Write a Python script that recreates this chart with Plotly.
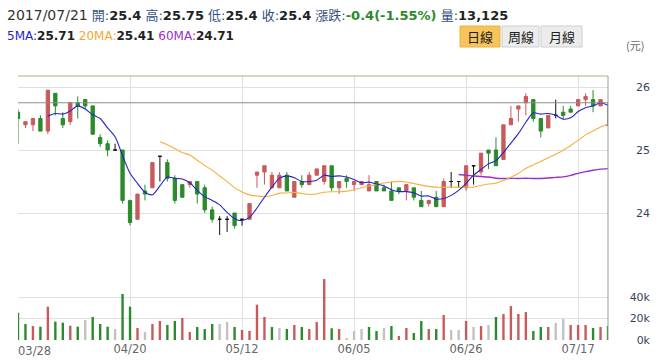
import plotly.graph_objects as go
from plotly.subplots import make_subplots
import pandas as pd

# ---------------- data ----------------
dates = ["03/28","03/29","03/30","03/31","04/05","04/06","04/07","04/10","04/11","04/12","04/13","04/14","04/17","04/18","04/19","04/20",
         "04/21","04/24","04/25","04/26","04/27","04/28","05/02","05/03","05/04","05/05","05/08","05/09","05/10","05/11","05/12",
         "05/15","05/16","05/17","05/18","05/19","05/22","05/23","05/24","05/25","05/26","05/31","06/01","06/02","06/03","06/05",
         "06/06","06/07","06/08","06/09","06/12","06/13","06/14","06/15","06/16","06/19","06/20","06/21","06/22","06/23","06/26",
         "06/27","06/28","06/29","06/30","07/03","07/04","07/05","07/06","07/07","07/10","07/11","07/12","07/13","07/14","07/17",
         "07/18","07/19","07/20","07/21"]

opens = [25.60,25.40,25.40,25.50,25.30,25.90,25.50,25.45,25.75,25.80,25.70,25.20,25.10,25.00,25.00,24.20,
         23.90,24.35,24.40,24.90,24.80,24.55,24.45,24.45,24.50,24.40,24.05,23.90,23.90,24.00,23.90,
         23.90,24.60,24.65,24.40,24.40,24.60,24.25,24.50,24.45,24.60,24.50,24.75,24.40,24.55,24.45,
         24.45,24.35,24.50,24.40,24.35,24.40,24.35,24.40,24.20,24.15,24.25,24.10,24.50,24.50,24.40,
         24.75,24.65,25.00,25.00,24.85,25.40,25.65,25.75,25.80,25.50,25.35,25.55,25.60,25.65,25.70,
         25.80,25.80,25.70,25.40]
highs = [25.65,25.45,25.50,25.55,25.95,25.90,25.60,25.75,25.85,25.80,25.70,25.25,25.15,25.10,25.00,24.20,
         24.30,24.45,24.80,24.90,24.85,24.60,24.45,24.50,24.50,24.45,24.10,23.95,23.95,24.00,23.90,
         24.15,24.65,24.75,24.65,24.65,24.65,24.50,24.60,24.65,24.70,24.75,24.75,24.50,24.60,24.50,
         24.50,24.60,24.50,24.45,24.50,24.40,24.45,24.40,24.35,24.20,24.35,24.55,24.65,24.50,24.75,
         24.75,24.95,25.00,25.20,25.40,25.70,25.70,25.90,25.80,25.50,25.55,25.80,25.70,25.70,25.80,
         25.90,25.95,25.80,25.75]
lows = [25.10,25.35,25.30,25.30,25.25,25.55,25.35,25.40,25.50,25.65,25.25,25.05,24.90,25.00,24.15,23.80,
        23.90,24.20,24.40,24.50,24.50,24.15,24.25,24.40,24.15,24.00,23.85,23.65,23.70,23.75,23.80,
        23.90,24.40,24.45,24.40,24.40,24.35,24.25,24.40,24.45,24.60,24.45,24.35,24.30,24.40,24.35,
        24.45,24.35,24.35,24.35,24.20,24.30,24.20,24.20,24.10,24.10,24.10,24.10,24.40,24.40,24.35,
        24.45,24.60,24.70,24.75,24.85,25.40,25.45,25.55,25.45,25.20,25.35,25.50,25.50,25.60,25.70,
        25.70,25.60,25.70,25.40]
closes = [25.50,25.45,25.50,25.30,25.95,25.70,25.40,25.75,25.70,25.70,25.25,25.10,25.00,25.00,24.20,23.85,
          24.30,24.30,24.80,24.90,24.55,24.20,24.25,24.50,24.30,24.05,23.90,23.90,23.90,23.80,23.90,
          24.15,24.65,24.75,24.60,24.60,24.35,24.50,24.45,24.60,24.70,24.75,24.40,24.50,24.50,24.50,
          24.50,24.45,24.35,24.35,24.20,24.35,24.45,24.25,24.10,24.20,24.10,24.50,24.50,24.50,24.75,
          24.75,24.95,24.95,24.75,25.40,25.50,25.70,25.85,25.50,25.30,25.55,25.55,25.55,25.60,25.80,
          25.85,25.70,25.80,25.40]
volumes = [25400,14900,13000,12400,31000,17100,16100,13300,12400,18600,21400,14900,12400,10200,42800,31000,
           11200,7400,14900,17700,14000,17700,20500,7400,12100,10200,14900,14900,16700,12100,9300,
           8400,32900,21400,12100,11200,10200,14000,12100,10200,16700,56700,10900,10200,1900,8400,
           10200,12100,8400,11200,13000,3700,11200,6500,17700,10200,10200,23300,9300,9300,17700,
           12100,13000,14000,21400,24200,31600,24200,26000,8400,12100,12100,15800,19500,14000,14000,
           14000,11200,12100,13125]

tick_dates = ["03/28", "04/20", "05/12", "06/05", "06/26", "07/17"]
tick_text = ["", "04/20", "05/12", "06/05", "06/26", "07/17"]
first_tick_label = "03/28"
price_ticks = [24, 25, 26]
vol_ticks = [0, 20000, 40000, 60000]
vol_tick_text = ["0k", "20k", "40k", ""]
marker_price = 25.75

header1 = ("<span style='color:#333;font-size:14px'>2017/07/21</span> "
           "<span style='color:#34507e'>開:</span><b>25.4</b> "
           "<span style='color:#34507e'>高:</span><b>25.75</b> "
           "<span style='color:#34507e'>低:</span><b>25.4</b> "
           "<span style='color:#34507e'>收:</span><b>25.4</b> "
           "<span style='color:#34507e'>漲跌:</span><b><span style='color:#2a8a2a'>-0.4(-1.55%)</span></b> "
           "<span style='color:#34507e'>量:</span><b>13,125</b>")
header2 = ("<span style='color:#2424c8'>5MA:</span><b>25.71</b> "
           "<span style='color:#f0a838'>20MA:</span><b>25.41</b> "
           "<span style='color:#9a30c8'>60MA:</span><b>24.71</b>")

# ---------------- styling ----------------
W, H = 662, 364
ML, MR, MT, MB = 18, 8, 76, 24
PW = W - ML - MR
PH = H - MT - MB
X_RIGHT = 608
VOL_TOP = 275

RED = "#c95a5c"
GREEN = "#2b8a2b"
BLACK = "#111111"
GRAY = "#c4c0c4"
GRID = "#e0e0e0"
FONT = "DejaVu Sans, Noto Sans CJK TC, sans-serif"


def px(xp):
    return (xp - ML) / PW


def py(yp):
    return (H - MB - yp) / PH


df = pd.DataFrame({"d": dates, "o": opens, "h": highs, "l": lows, "c": closes, "v": volumes})
diff_oc = (df.c - df.o).round(3)
up = df[diff_oc > 0]
dn = df[diff_oc < 0]
fl = df[diff_oc == 0]

chg = df.c.diff().round(3)
chg.iloc[0] = diff_oc.iloc[0]
vol_colors = [RED if c > 0 else (GREEN if c < 0 else GRAY) for c in chg]

ma5 = df.c.rolling(5).mean()
ma20 = df.c.rolling(20).mean()
ma60 = df.c.rolling(60).mean()

fig = make_subplots(rows=2, cols=1, shared_xaxes=True, vertical_spacing=0)


def candle(sub, color):
    return go.Candlestick(x=sub.d, open=sub.o, high=sub.h, low=sub.l, close=sub.c,
                          increasing=dict(line=dict(color=color, width=1), fillcolor=color),
                          decreasing=dict(line=dict(color=color, width=1), fillcolor=color),
                          whiskerwidth=0, showlegend=False, hoverinfo="skip")


fig.add_trace(candle(up, RED), row=1, col=1)
fig.add_trace(candle(dn, GREEN), row=1, col=1)
fig.add_trace(candle(fl, BLACK), row=1, col=1)

for ma, color, w in [(ma60, "#9a30c8", 1.4), (ma20, "#f3b03e", 1.1), (ma5, "#2424c8", 1.1)]:
    fig.add_trace(go.Scatter(x=df.d, y=ma, mode="lines",
                             line=dict(color=color, width=w, shape="spline", smoothing=0.7),
                             showlegend=False, hoverinfo="skip"), row=1, col=1)

fig.add_trace(go.Bar(x=df.d, y=df.v, marker=dict(color=vol_colors, line=dict(width=0)),
                     width=0.32, showlegend=False, hoverinfo="skip"), row=2, col=1)

xdom = [0, px(X_RIGHT)]
axis_common = dict(type="category", categoryorder="array", categoryarray=dates,
                   range=[0, len(dates) - 1], domain=xdom, showgrid=True, gridcolor=GRID, gridwidth=1,
                   tickvals=tick_dates, ticktext=tick_text, showline=False, zeroline=False,
                   rangeslider=dict(visible=False), ticks="", fixedrange=True, automargin=False)
fig.update_layout(xaxis=dict(axis_common, showticklabels=False),
                  xaxis2=dict(axis_common, showticklabels=True,
                              tickfont=dict(family=FONT, size=11.5, color="#666")))

ypos = px(650)
fig.update_layout(
    yaxis=dict(domain=[py(VOL_TOP), 1], range=[26 - (VOL_TOP - 87) / 63, 26 + 11 / 63],
               tickvals=price_ticks, ticktext=[str(t) for t in price_ticks],
               side="left", anchor="free", position=ypos, showgrid=True, gridcolor=GRID,
               zeroline=False, showline=False, ticks="", automargin=False,
               tickfont=dict(family=FONT, size=11, color="#34445e")),
    yaxis2=dict(domain=[0, py(VOL_TOP)], range=[0, 60500],
                tickvals=vol_ticks, ticktext=vol_tick_text,
                side="left", anchor="free", position=ypos, showgrid=True, gridcolor=GRID,
                zeroline=False, showline=False, ticks="", automargin=False,
                tickfont=dict(family=FONT, size=11, color="#34445e")),
)

shapes = [
    dict(type="line", xref="paper", yref="paper", x0=0, x1=px(X_RIGHT), y0=1, y1=1,
         line=dict(color="#b5aa8c", width=1)),
    dict(type="line", xref="paper", yref="y", x0=0, x1=px(X_RIGHT), y0=marker_price, y1=marker_price,
         line=dict(color="#8c8c8c", width=1)),
    dict(type="line", xref="paper", yref="paper", x0=px(X_RIGHT), x1=px(X_RIGHT), y0=0, y1=1,
         line=dict(color="#9a9a9a", width=1)),
    dict(type="rect", xref="paper", yref="paper", x0=px(460), x1=px(500), y0=py(47), y1=py(26),
         fillcolor="#f7c35a", line=dict(color="#e6b24a", width=1), layer="above"),
    dict(type="rect", xref="paper", yref="paper", x0=px(502), x1=px(539), y0=py(47), y1=py(26),
         fillcolor="#ececec", line=dict(color="#cfcfcf", width=1), layer="above"),
    dict(type="rect", xref="paper", yref="paper", x0=px(541), x1=px(582), y0=py(47), y1=py(26),
         fillcolor="#ececec", line=dict(color="#cfcfcf", width=1), layer="above"),
]

annotations = [
    dict(text=header1, xref="paper", yref="paper", x=px(5), y=py(15), xanchor="left", yanchor="middle",
         showarrow=False, font=dict(family=FONT, size=13, color="#222")),
    dict(text=header2, xref="paper", yref="paper", x=px(5), y=py(36), xanchor="left", yanchor="middle",
         showarrow=False, font=dict(family=FONT, size=12, color="#222")),
    dict(text="日線", xref="paper", yref="paper", x=px(480), y=py(36.5), xanchor="center", yanchor="middle",
         showarrow=False, font=dict(family="Noto Sans CJK TC", size=13, color="#222")),
    dict(text="周線", xref="paper", yref="paper", x=px(520.5), y=py(36.5), xanchor="center", yanchor="middle",
         showarrow=False, font=dict(family="Noto Sans CJK TC", size=13, color="#222")),
    dict(text="月線", xref="paper", yref="paper", x=px(561.5), y=py(36.5), xanchor="center", yanchor="middle",
         showarrow=False, font=dict(family="Noto Sans CJK TC", size=13, color="#222")),
    dict(text="(元)", xref="paper", yref="paper", x=px(635), y=py(45), xanchor="center", yanchor="middle",
         showarrow=False, font=dict(family="Noto Sans CJK TC", size=11, color="#666")),
    dict(text=first_tick_label, xref="paper", yref="paper", x=px(16), y=py(351), xanchor="left",
         yanchor="middle", showarrow=False, font=dict(family=FONT, size=11.5, color="#666")),
]

fig.update_layout(width=W, height=H, margin=dict(l=ML, r=MR, t=MT, b=MB, autoexpand=False),
                  paper_bgcolor="white", plot_bgcolor="white", boxgap=0.37,
                  shapes=shapes, annotations=annotations, showlegend=False, hovermode=False,
                  font=dict(family=FONT))

fig.write_html("out.html", config={"displayModeBar": False},
               post_script="document.body.style.margin='0';document.body.style.overflow='hidden';")
